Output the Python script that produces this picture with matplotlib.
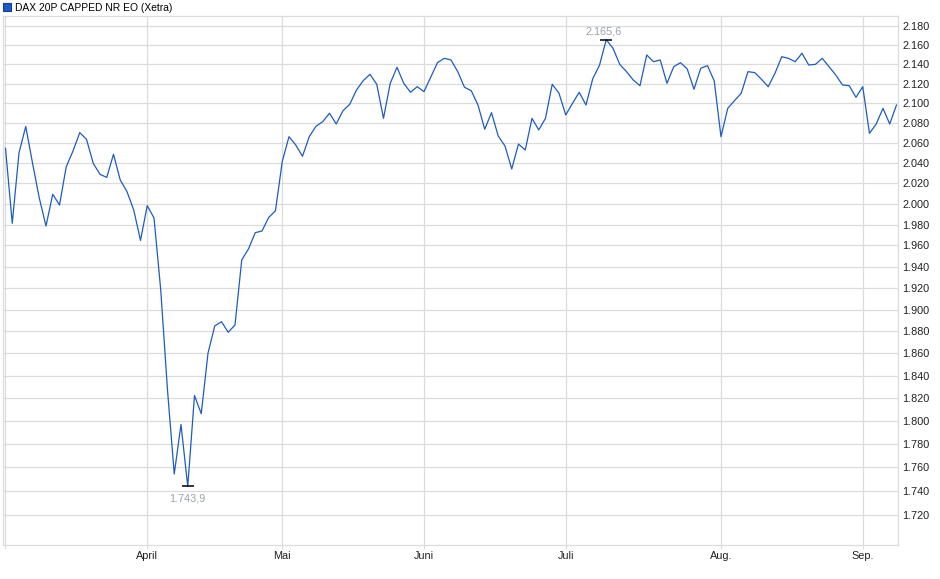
import matplotlib
matplotlib.use('Agg')
import matplotlib.pyplot as plt
import numpy as np
import pandas as pd
from matplotlib.patches import Patch
from matplotlib.ticker import FixedLocator, FuncFormatter, NullLocator

plt.rcParams['font.family'] = ['Liberation Sans', 'DejaVu Sans']

# Xetra trading days, March 3 to September 8 2025
holidays = ['2025-04-18', '2025-04-21', '2025-05-01']
dates = pd.bdate_range('2025-03-03', '2025-09-08', freq='C', holidays=holidays)

# closing values
values = [
    2054.5, 1981.2, 2049.9, 2076.4, 2040.0, 2005.7, 1978.6, 2009.3, 1998.8, 2036.3,
    2051.8, 2070.2, 2063.5, 2039.6, 2028.8, 2025.7, 2048.6, 2023.2, 2011.8, 1994.0,
    1964.8, 1998.2, 1986.3, 1918.1, 1827.4, 1754.5, 1797.1, 1743.9, 1822.5, 1806.5,
    1860.2, 1885.0, 1888.9, 1879.2, 1885.9, 1946.3, 1956.7, 1972.2, 1973.8, 1986.8,
    1993.3, 2041.4, 2066.1, 2057.8, 2046.6, 2066.1, 2076.6, 2081.2, 2089.7, 2078.9,
    2092.3, 2098.8, 2113.4, 2123.0, 2129.6, 2119.3, 2084.6, 2120.3, 2136.8, 2120.3,
    2111.1, 2116.8, 2111.7, 2126.5, 2141.6, 2146.1, 2144.4, 2132.3, 2116.2, 2112.7,
    2098.1, 2073.6, 2090.3, 2066.8, 2056.8, 2034.0, 2058.8, 2052.8, 2084.6, 2072.9,
    2084.6, 2119.3, 2110.1, 2088.0, 2099.8, 2111.1, 2098.1, 2124.9, 2138.9, 2165.6,
    2156.6, 2139.9, 2132.3, 2123.7, 2117.8, 2149.6, 2142.6, 2144.4, 2120.3, 2137.4,
    2141.6, 2135.1, 2114.2, 2135.8, 2138.5, 2122.7, 2066.1, 2094.7, 2102.5, 2110.1,
    2132.3, 2131.3, 2124.4, 2116.8, 2130.6, 2147.8, 2146.1, 2142.6, 2151.4, 2139.2,
    2139.9, 2146.1, 2137.4, 2128.9, 2118.6, 2117.8, 2105.9, 2116.8, 2069.5, 2078.9,
    2094.7, 2078.9, 2098.1,
]

month_names = {3: '', 4: 'April', 5: 'Mai', 6: 'Juni', 7: 'Juli', 8: 'Aug.', 9: 'Sep.'}
y_ticks = list(range(1720, 2181, 20))
series_name = 'DAX 20P CAPPED NR EO (Xetra)'

line_color = '#1c5cc4'
grid_color = '#dcdcdc'

values = np.array(values)
x = np.arange(len(values))

# first trading day of each month -> x tick
months = dates.month
month_idx = [i for i in range(len(dates)) if i == 0 or months[i] != months[i - 1]]
month_lbl = [month_names[months[i]] for i in month_idx]

fig = plt.figure(figsize=(9.4, 5.79), dpi=100)
ax = fig.add_axes([3 / 940, 1 - 545 / 579, 895.3 / 940, 529 / 579])

ax.plot(x, values, color=line_color, lw=0.9, zorder=3)

ax.set_yscale('log')
ax.set_ylim(1695.1, 2190.6)
ax.set_xlim(-0.37, len(values) - 1 + 0.27)

ax.yaxis.set_major_locator(FixedLocator(y_ticks))
ax.yaxis.set_minor_locator(NullLocator())
ax.yaxis.set_major_formatter(FuncFormatter(lambda v, p: f'{v / 1000:.3f}'))
ax.yaxis.tick_right()
ax.tick_params(axis='y', length=0, pad=3, labelsize=7.8, labelcolor='#222222')

ax.set_xticks(month_idx)
ax.set_xticklabels(month_lbl)
ax.tick_params(axis='x', length=3, width=0.8, color=grid_color, pad=1.5,
               labelsize=7.8, labelcolor='#222222')

ax.grid(True, color=grid_color, lw=0.9, zorder=0)
for s in ax.spines.values():
    s.set_color(grid_color)
    s.set_linewidth(0.9)

# high / low markers
fmt_de = lambda v: f'{v:,.1f}'.replace(',', 'X').replace('.', ',').replace('X', '.')
i_hi = int(np.argmax(values))
i_lo = int(np.argmin(values))
ax.plot([i_hi, i_lo], [values[i_hi], values[i_lo]], ls='none', marker='_',
        ms=9, mew=1.1, color='black', zorder=4)
ax.annotate(fmt_de(values[i_hi]), (i_hi, values[i_hi]), xytext=(-2, 2),
            textcoords='offset points', ha='center', va='bottom',
            fontsize=7.8, color='#9aa2ac')
ax.annotate(fmt_de(values[i_lo]), (i_lo, values[i_lo]), xytext=(0, -5),
            textcoords='offset points', ha='center', va='top',
            fontsize=7.8, color='#9aa2ac')

handle = Patch(facecolor=line_color, edgecolor='#123e8a', lw=0.8)
fig.legend([handle], [series_name], loc='upper left', bbox_to_anchor=(0.0, 1.0),
           frameon=False, fontsize=7.4, borderaxespad=0.1, borderpad=0.15,
           handlelength=0.8, handleheight=0.8, handletextpad=0.45)

fig.savefig('out.png', dpi=100)
